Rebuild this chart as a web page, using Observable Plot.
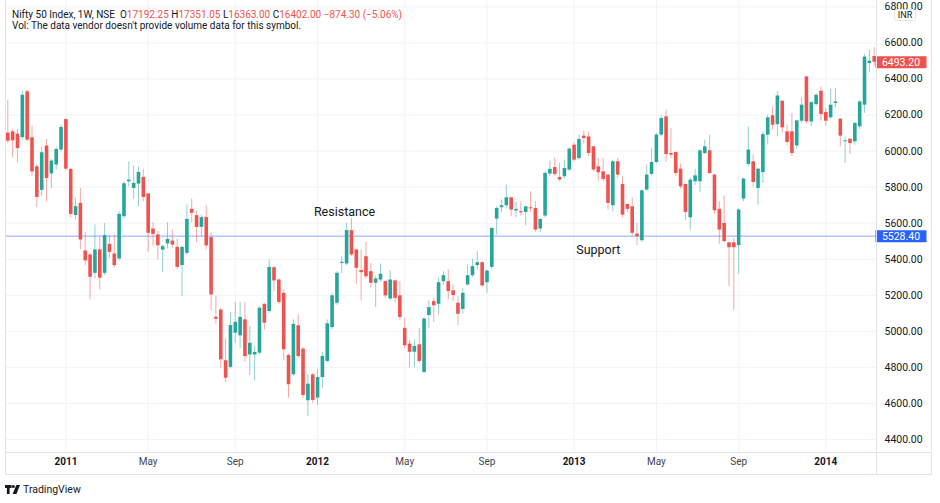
<!DOCTYPE html>
<html>
<head>
<meta charset="utf-8">
<script src="https://cdn.jsdelivr.net/npm/d3@7"></script>
<script src="https://cdn.jsdelivr.net/npm/@observablehq/plot@0.6"></script>
<style>
  html, body { margin: 0; padding: 0; background: #fff; }
  #wrap { position: relative; width: 940px; height: 503px; overflow: hidden; font-family: Roboto, "Noto Sans", sans-serif; color: #131722; }
  #wrap > svg { position: absolute; left: 0; top: 0; }
  .hdr { position: absolute; left: 12px; top: 9px; font-size: 10px; line-height: 11px; color: #131722; white-space: pre; }
  .hdr .r { color: #ef5350; }
  .line { position: absolute; background: #e0e3eb; }
  #inr { position: absolute; left: 894px; top: 9px; width: 22px; height: 12px; box-sizing: border-box; border: 1px solid #e0e3eb; border-radius: 3px; background: #fff; font-size: 9px; line-height: 10px; text-align: center; color: #131722; }
  #logo { position: absolute; left: 5px; top: 483px; height: 12px; display: flex; align-items: center; gap: 3px; font-size: 10.5px; color: #131722; }
  #logo svg { display: block; }
</style>
</head>
<body>
<div id="wrap"></div>
<script>
// ---- data (weekly candles, Nifty 50, from week of 2010-10-11) ----
const firstWeek = "2010-10-11";
const opens = [
  6100,6107,6094,6075,6329,6074,5913,5782,6028,5873,
  5923,6006,6175,5898,5643,5710,5446,5424,5322,5452,
  5322,5483,5429,5402,5636,5830,5793,5817,5854,5762,
  5568,5535,5451,5485,5501,5466,5365,5433,5677,5642,
  5577,5631,5520,5078,5119,4837,4800,4990,4975,5064,
  4869,4869,4879,5150,5110,5353,5285,5211,4866,4759,
  5031,4901,4615,4759,4630,4744,4833,5021,5156,5377,
  5374,5559,5452,5337,5414,5331,5267,5285,5276,5180,
  5280,5197,5017,4929,4884,4925,4772,5088,5165,5150,
  5276,5276,5225,5156,5122,5258,5309,5365,5381,5270,
  5355,5623,5686,5697,5741,5668,5664,5660,5686,5682,
  5568,5640,5873,5909,5854,5858,5895,6033,5959,6083,
  6079,6024,5913,5885,5867,5697,5941,5815,5704,5691,
  5540,5503,5784,5871,5937,6089,6190,5987,5992,5900,
  5815,5630,5830,5830,5987,6002,5867,5677,5599,5491,
  5491,5476,5734,5926,5941,5793,5881,6089,6196,6147,
  6277,6107,6107,6029,6166,6412,6162,6258,6332,6214,
  6185,6264,6177,6052,6066,6052,6135,6255,6486,6525
];
const highs = [
  6280,6120,6120,6332,6338,6139,5925,6024,6064,5954,
  6022,6144,6181,5905,5741,5793,5549,5430,5591,5525,
  5599,5531,5535,5664,5830,5941,5917,5913,5900,5765,
  5603,5557,5479,5603,5562,5512,5470,5701,5734,5664,
  5645,5697,5547,5197,5125,4958,5106,5161,5161,5161,
  5027,4916,5137,5155,5396,5360,5290,5230,4875,5064,
  5092,4910,4759,4765,4787,4884,5064,5211,5331,5414,
  5599,5627,5455,5450,5494,5377,5304,5374,5280,5337,
  5285,5276,5073,4948,4953,5017,5075,5169,5184,5294,
  5331,5341,5257,5193,5239,5368,5400,5442,5385,5340,
  5575,5691,5729,5812,5745,5715,5719,5695,5775,5720,
  5625,5885,5944,5962,5931,5950,6020,6045,6089,6111,
  6107,6026,5959,5959,5870,5950,5959,5858,5706,5741,
  5599,5784,5922,6014,6098,6196,6227,6125,5995,5928,
  5818,5852,5900,6006,6061,6089,5870,5719,5752,5495,
  5516,5680,5850,6135,5978,5905,6107,6199,6245,6329,
  6280,6144,6208,6172,6295,6415,6275,6319,6356,6236,
  6343,6347,6180,6079,6070,6159,6280,6535,6560,6574
];
const lows = [
  6040,5962,5935,6060,6050,5862,5686,5747,5719,5793,
  5895,5995,5890,5630,5618,5455,5363,5175,5291,5230,
  5310,5405,5350,5390,5625,5800,5734,5691,5720,5438,
  5470,5396,5327,5457,5460,5345,5193,5420,5604,5494,
  5525,5452,5114,5040,4796,4716,4790,4934,4906,4829,
  4755,4725,4870,5008,5100,5221,5150,4837,4630,4750,
  4850,4630,4528,4600,4589,4685,4825,5010,5145,5322,
  5365,5415,5261,5169,5290,5240,5132,5275,5180,5170,
  5160,5060,4905,4796,4799,4820,4765,5017,5050,5092,
  5257,5175,5165,5032,5097,5250,5300,5340,5243,5211,
  5345,5535,5660,5680,5636,5630,5640,5585,5660,5550,
  5547,5630,5860,5860,5830,5845,5885,5940,5950,6040,
  5970,5885,5830,5830,5673,5664,5850,5630,5660,5530,
  5476,5495,5775,5860,5930,6080,5937,5960,5860,5790,
  5614,5562,5810,5771,5980,5870,5650,5483,5490,5248,
  5119,5317,5720,5915,5800,5701,5821,6033,6116,6079,
  6100,6030,5969,6010,6155,6150,6135,6250,6166,6140,
  6175,6240,6024,5931,5981,6033,6120,6210,6435,6470
];
const closes = [
  6055,6057,6014,6310,6061,5885,5743,5991,5848,5945,
  6009,6131,5900,5649,5692,5507,5391,5300,5452,5295,
  5531,5438,5365,5649,5819,5839,5821,5882,5743,5544,
  5538,5475,5470,5510,5479,5355,5466,5621,5655,5577,
  5631,5474,5202,5067,4842,4740,5032,5050,5078,4860,
  4934,4883,5128,5045,5355,5280,5160,4898,4704,5039,
  4860,4644,4707,4617,4744,4861,5042,5197,5322,5383,
  5559,5424,5350,5326,5303,5267,5291,5317,5197,5285,
  5183,5077,4920,4884,4916,4833,5069,5132,5142,5270,
  5309,5221,5199,5095,5211,5309,5359,5381,5252,5335,
  5571,5682,5697,5741,5673,5677,5658,5691,5680,5562,
  5621,5876,5899,5871,5840,5904,6011,5950,6065,6070,
  5987,5895,5880,5843,5710,5941,5867,5645,5677,5544,
  5525,5780,5867,5937,6089,6181,5981,5978,5876,5802,
  5660,5839,5863,6002,6024,5876,5669,5562,5498,5464,
  5464,5673,5845,6006,5826,5900,6092,6185,6144,6306,
  6129,6048,5987,6168,6255,6162,6269,6310,6203,6166,
  6255,6273,6083,6057,6042,6153,6273,6522,6499,6493.2
];
const supportLevel = 5528.4;
const lastPrice = 6493.2;
const priceTicks = [4400, 4600, 4800, 5000, 5200, 5400, 5600, 5800, 6000, 6200, 6400, 6600, 6800];
const timeTickDates = ["2011-01-03","2011-05-02","2011-09-05","2012-01-02","2012-05-07","2012-09-03","2013-01-07","2013-05-06","2013-09-02","2014-01-06"];
const timeTickLabels = ["2011","May","Sep","2012","May","Sep","2013","May","Sep","2014"];
const notes = [
  {date: "2012-02-10", value: 5665, text: "Resistance"},
  {date: "2013-02-11", value: 5454, text: "Support"}
];
const headerSymbol = "Nifty 50 Index, 1W, NSE";
const headerOHLC = [["O","17192.25"],["H","17351.05"],["L","16363.00"],["C","16402.00"]];
const headerChange = "\u2212874.30 (\u22125.06%)";
const volNote = "Vol: The data vendor doesn't provide volume data for this symbol.";

// ---- build ----
const upColor = "#26a69a", downColor = "#ef5350";
const utc = s => new Date(s + "T00:00:00Z");
const dates = d3.range(opens.length).map(i => d3.utcDay.offset(utc(firstWeek), 7 * i));
const bars = dates.map((date, i) => ({date, open: opens[i], high: highs[i], low: lows[i], close: closes[i]}));
const colorOf = d => d.close >= d.open ? upColor : downColor;
const timeTicks = timeTickDates.map((s, i) => ({date: utc(s), label: timeTickLabels[i], year: /^\d{4}$/.test(timeTickLabels[i])}));
const tags = [
  {value: supportLevel, color: "#2962ff"},
  {value: lastPrice, color: "#ef5350"}
];
// rectangular badge symbol for the price-axis tags
const tagSymbol = {draw(context) { context.rect(-25.5, -6, 51, 12); }};

const chart = Plot.plot({
  width: 940,
  height: 503,
  marginLeft: 5,
  marginRight: 64,
  marginTop: 0,
  marginBottom: 51,
  style: {fontFamily: "Roboto, 'Noto Sans', sans-serif", fontSize: "10.5px", color: "#131722", background: "transparent", overflow: "visible"},
  x: {type: "utc", domain: [dates[0], dates[dates.length - 1]], range: [7.3, 873.7], axis: null},
  y: {domain: [4200, 6800], range: [475.05, 6.45], axis: null},
  marks: [
    Plot.ruleY(priceTicks, {stroke: "#f0f3fa", strokeWidth: 1}),
    Plot.ruleX(timeTicks, {x: "date", stroke: "#f0f3fa", strokeWidth: 1}),
    Plot.ruleY([supportLevel], {stroke: "#2962ff", strokeOpacity: 0.55, strokeWidth: 1}),
    Plot.ruleX(bars, {x: "date", y1: "low", y2: "high", stroke: colorOf, strokeOpacity: 0.5, strokeWidth: 1}),
    Plot.ruleX(bars, {x: "date", y1: "open", y2: "close", stroke: colorOf, strokeWidth: 3.6}),
    Plot.text(notes, {x: d => utc(d.date), y: "value", text: "text", fontSize: 12.5, fill: "#131722"}),
    Plot.axisY(priceTicks, {anchor: "right", tickSize: 0, tickPadding: 8, tickFormat: d => d.toFixed(2), label: null, fontSize: 10.5, fill: "#131722"}),
    Plot.text(timeTicks.filter(d => d.year), {x: "date", text: "label", frameAnchor: "bottom", dy: 12, fontWeight: "bold", fontSize: 10, fill: "#131722"}),
    Plot.text(timeTicks.filter(d => !d.year), {x: "date", text: "label", frameAnchor: "bottom", dy: 12, fontSize: 10, fill: "#434651"}),
    Plot.dot(tags, {y: "value", frameAnchor: "right", dx: 24.5, symbol: tagSymbol, fill: d => d.color, stroke: null, r: 6}),
    Plot.text(tags, {y: "value", text: d => d.value.toFixed(2), frameAnchor: "right", textAnchor: "middle", dx: 24.5, fill: "white", fontSize: 10.5})
  ]
});

const wrap = document.getElementById("wrap");
wrap.appendChild(chart);

// structural lines of the chart pane
function line(l, t, w, h) {
  const d = document.createElement("div");
  d.className = "line";
  Object.assign(d.style, {left: l + "px", top: t + "px", width: w + "px", height: h + "px"});
  wrap.appendChild(d);
}
line(5, 0, 1, 474);      // left border
line(931, 0, 1, 474);    // right border
line(5, 474, 927, 1);    // bottom border
line(5, 452, 927, 1);    // time-axis separator
line(876, 0, 1, 474);    // price-axis separator

// header
const hdr = document.createElement("div");
hdr.className = "hdr";
const l1 = document.createElement("div");
l1.append(headerSymbol + "  ");
headerOHLC.forEach(([k, v]) => {
  l1.append(k);
  const s = document.createElement("span"); s.className = "r"; s.textContent = v;
  l1.append(s, " ");
});
const ch = document.createElement("span"); ch.className = "r"; ch.textContent = headerChange;
l1.append(ch);
const l2 = document.createElement("div");
l2.textContent = volNote;
hdr.append(l1, l2);
wrap.appendChild(hdr);

// currency badge
const inr = document.createElement("div");
inr.id = "inr"; inr.textContent = "INR";
wrap.appendChild(inr);

// logo
const logo = document.createElement("div");
logo.id = "logo";
logo.innerHTML = '<svg width="15" height="9" viewBox="0 0 15 9"><path d="M0 0H6.5V3H4.6V9H1.9V3H0Z" fill="#131722"/><circle cx="8.3" cy="1.5" r="1.5" fill="#131722"/><path d="M11.3 0H15L11.4 9H7.7Z" fill="#131722"/></svg><span>TradingView</span>';
wrap.appendChild(logo);
</script>
</body>
</html>
